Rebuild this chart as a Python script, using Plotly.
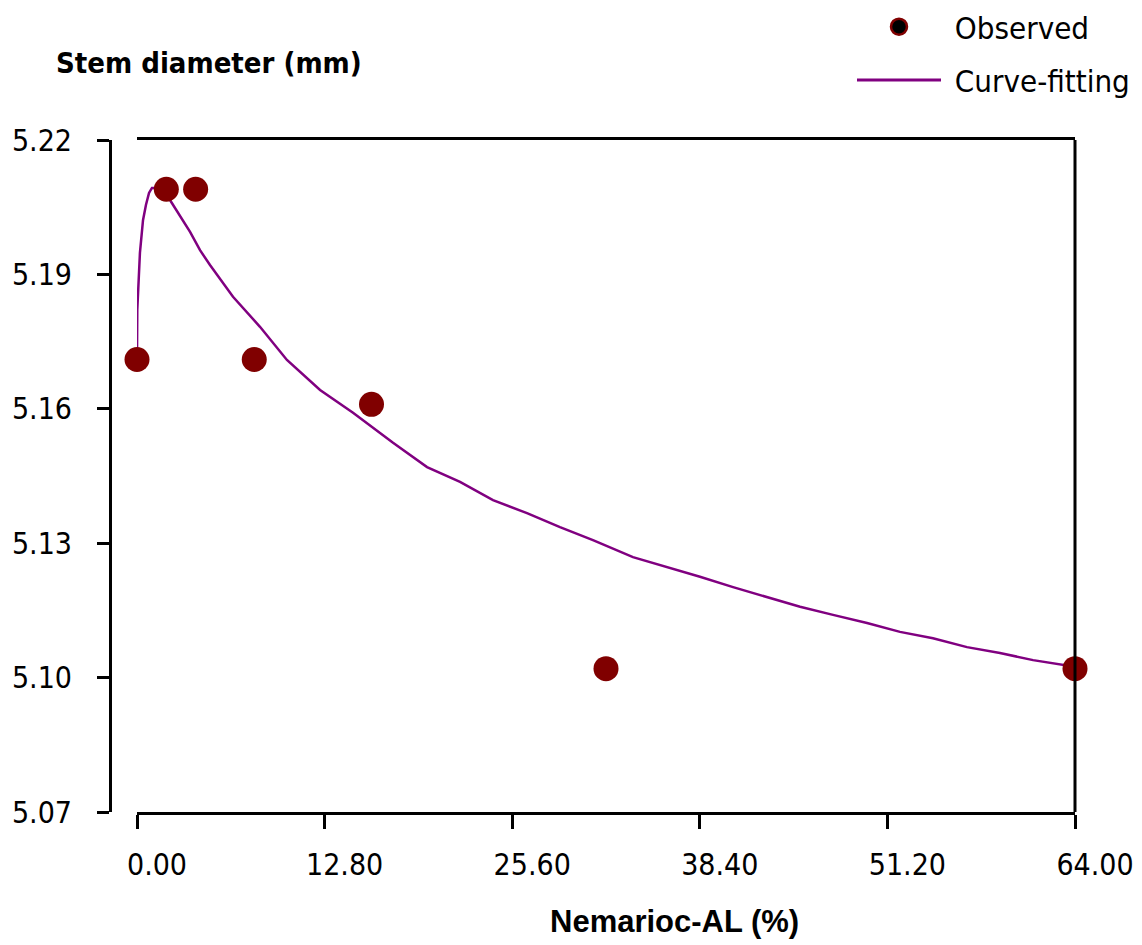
import plotly.graph_objects as go

# ---- data ----
conc = [0, 2, 4, 8, 16, 32, 64]
observed = [5.171, 5.209, 5.209, 5.171, 5.161, 5.102, 5.102]

fit_x = [0.0, 0.02, 0.20, 0.41, 0.61, 0.82, 1.02, 1.77, 2.25, 2.93, 3.62, 4.30, 4.98,
         6.55, 8.39, 10.23, 12.49, 14.74, 17.47, 19.79, 22.04, 24.29, 26.61, 28.86,
         31.11, 33.84, 36.16, 38.41, 40.67, 42.99, 45.24, 47.49, 49.81, 52.06, 54.31,
         56.63, 58.88, 61.14, 64.00]
fit_y = [5.1716, 5.1821, 5.1948, 5.2021, 5.2055, 5.2082, 5.2093, 5.2093, 5.2066, 5.2030,
         5.1995, 5.1954, 5.1921, 5.1850, 5.1783, 5.1709, 5.1642, 5.1591, 5.1524, 5.1470,
         5.1437, 5.1396, 5.1367, 5.1336, 5.1307, 5.1269, 5.1247, 5.1225, 5.1202, 5.1180,
         5.1158, 5.1140, 5.1122, 5.1102, 5.1088, 5.1068, 5.1055, 5.1039, 5.1024]

x_ticks = [0, 12.8, 25.6, 38.4, 51.2, 64.0]
x_labels = ["0.00", "12.80", "25.60", "38.40", "51.20", "64.00"]
y_ticks = [5.07, 5.10, 5.13, 5.16, 5.19, 5.22]
y_labels = ["5.07", "5.10", "5.13", "5.16", "5.19", "5.22"]

MAROON = "#800000"
PURPLE = "#800080"
NARROW = "DejaVu Sans Condensed, Liberation Sans Narrow, sans-serif"

W, H = 1142, 945
ML, MR, MT, MB = 0, 67, 140, 133
PW = W - ML - MR  # plot width in px
PH = H - MT - MB

fig = go.Figure()

fig.add_trace(go.Scatter(
    x=fit_x, y=fit_y, mode="lines",
    line=dict(color=PURPLE, width=2.5),
    showlegend=False, cliponaxis=False, hoverinfo="skip"))

fig.add_trace(go.Scatter(
    x=conc, y=observed, mode="markers",
    marker=dict(color=MAROON, size=25, line=dict(width=0)),
    showlegend=False, cliponaxis=False))

# legend entries
fig.add_trace(go.Scatter(
    x=[None], y=[None], mode="markers", name="\u00a0Observed", legendgroup="a",
    marker=dict(color="black", size=22, line=dict(color=MAROON, width=2.5))))
fig.add_trace(go.Scatter(
    x=[None], y=[None], mode="lines", name="\u00a0Curve-fitting", legendgroup="b",
    line=dict(color=PURPLE, width=3)))

fig.update_layout(
    width=W, height=H,
    margin=dict(l=ML, r=MR, t=MT, b=MB, pad=0, autoexpand=False),
    plot_bgcolor="white", paper_bgcolor="white",
    xaxis=dict(
        domain=[137 / PW, 1], range=[0, 64], automargin=False,
        tickmode="array", tickvals=x_ticks, ticktext=x_labels,
        ticks="outside", ticklen=14, tickwidth=3, tickcolor="black",
        showline=True, linewidth=3, linecolor="black", mirror=True,
        showgrid=False, zeroline=False,
        tickfont=dict(family=NARROW, size=30, color="black"),
        ticklabelshift=20, ticklabelstandoff=10),
    yaxis=dict(
        range=[5.07, 5.22], anchor="free", position=110 / PW, automargin=False,
        tickmode="array", tickvals=y_ticks, ticktext=y_labels,
        ticks="outside", ticklen=12, tickwidth=3, tickcolor="black",
        showline=True, linewidth=3, linecolor="black",
        showgrid=False, zeroline=False,
        tickfont=dict(family=NARROW, size=30, color="black"),
        ticklabelstandoff=19),
    legend=dict(
        xref="container", yref="container",
        x=852 / W, y=1 + 3 / H, xanchor="left", yanchor="top",
        bgcolor="rgba(0,0,0,0)", itemwidth=84,
        font=dict(family=NARROW, size=31, color="black"),
        tracegroupgap=10),
    showlegend=True,
)

# right frame line
fig.add_shape(type="line", xref="x domain", yref="y domain",
              x0=1, x1=1, y0=0, y1=1, line=dict(color="black", width=3))

fig.add_annotation(
    text="<b>Stem diameter (mm)</b>", xref="paper", yref="paper",
    x=54 / PW, y=1 + (MT - 63) / PH, xanchor="left", yanchor="middle",
    showarrow=False, font=dict(family=NARROW, size=29, color="black"))

fig.add_annotation(
    text="<b>Nemarioc-AL (%)</b>", xref="paper", yref="paper",
    x=674 / PW, y=-(921 - (MT + PH)) / PH, xanchor="center", yanchor="middle",
    showarrow=False, font=dict(family="Liberation Sans, Arial, sans-serif", size=31, color="black"))

fig.write_html("out.html")
